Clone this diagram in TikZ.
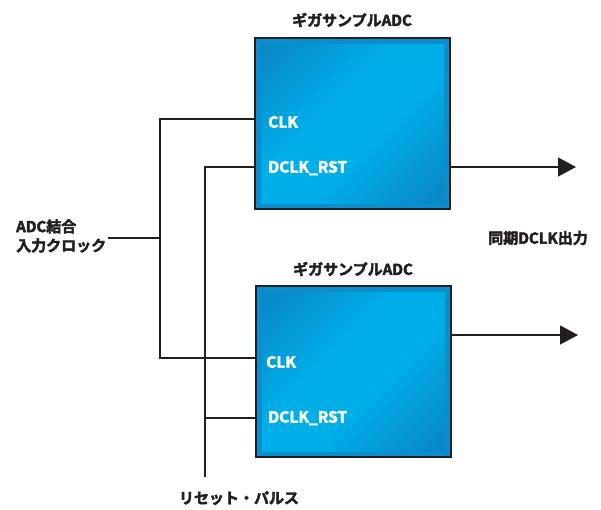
\documentclass[tikz,border=0pt]{standalone}
\usepackage{fontspec}
\setmainfont{Noto Sans CJK JP}[BoldFont={Noto Sans CJK JP Bold}, BoldFeatures={FakeBold=2.8}]
\usetikzlibrary{arrows.meta,shadings}
\definecolor{adcedge}{HTML}{0C8ECE}
\definecolor{adcmid}{HTML}{00AEE8}
\definecolor{adcdark}{HTML}{0A82C3}
\definecolor{wire}{HTML}{231F20}
\pgfdeclareverticalshading{adcshade}{100bp}{color(0bp)=(adcdark); color(12bp)=(adcdark); color(42bp)=(adcmid); color(58bp)=(adcmid); color(88bp)=(adcdark); color(100bp)=(adcdark)}
\tikzset{
  wirel/.style={draw=wire, line width=1.3pt},
  lbl/.style={font=\bfseries\fontsize{15}{18}\selectfont, text=wire, inner sep=0pt},
  pin/.style={font=\bfseries\fontsize{15.5}{18}\selectfont, text=white, inner sep=0pt, anchor=west},
  arr/.style={wirel, -{Triangle[length=18pt, width=19pt]}},
}
\newcommand{\adcbox}[5]{% name, x1, y1, x2, y2
  \fill[adcedge] (#2,#3) rectangle (#4,#5);
  \shade[shading=adcshade, shading angle=45]
     (#2+6,#3+6) rectangle (#4-6,#5-6);
  \draw[wire, line width=1.4pt] (#2,#3) rectangle (#4,#5);
  \coordinate (#1) at (#2,#3);
}
\begin{document}
\begin{tikzpicture}[x=1pt, y=-1pt]
\useasboundingbox (0,0) rectangle (601,509);
% boxes
\adcbox{adcA}{255}{38}{450}{209}
\adcbox{adcB}{256}{286}{451}{457}
\node[lbl] (titleA) at (352,20) {ギガサンプルADC};
\node[lbl] (titleB) at (353,269) {ギガサンプルADC};
% pins
\coordinate (clkA) at (255,119);
\coordinate (rstA) at (255,167);
\coordinate (clkB) at (256,358);
\coordinate (rstB) at (256,418);
\coordinate (outA) at (450,167);
\coordinate (outB) at (451,335);
\node[pin] (clkAl) at (268,122) {CLK};
\node[pin] (rstAl) at (268,168) {DCLK\_RST};
\node[pin] (clkBl) at (266,362) {CLK};
\node[pin] (rstBl) at (268,418) {DCLK\_RST};
% input clock
\node[lbl, align=left, anchor=west] (inclk) at (16,236) {ADC結合\\[1pt]入力クロック};
\coordinate (inend) at (108,238);
\coordinate (split) at (160,238);
\draw[wirel] (inend) -- (split);
\draw[wirel] (clkA) -| (split) |- (clkB);
% reset
\coordinate (rstbot) at (205,477);
\draw[wirel] (rstA) -| (rstbot);
\draw[wirel] (205,418) -- (rstB);
\node[lbl] (rstl) at (239,498) {リセット・パルス};
% outputs
\coordinate (tipA) at (576,167);
\coordinate (tipB) at (578,335);
\draw[arr] (outA) -- (tipA);
\draw[arr] (outB) -- (tipB);
\node[lbl] (outl) at (538,238) {同期DCLK出力};
\end{tikzpicture}
\end{document}
